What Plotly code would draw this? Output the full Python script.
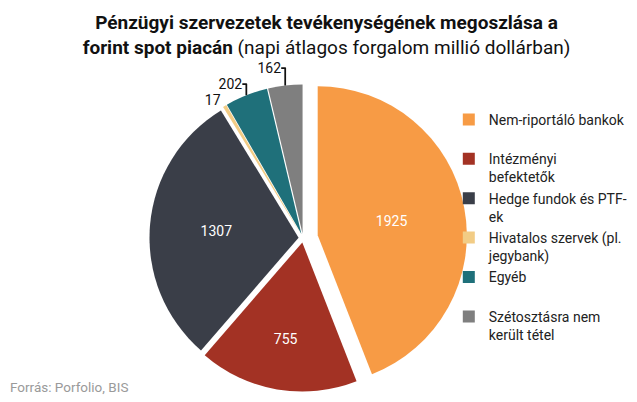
import plotly.graph_objects as go

labels = ["Nem-riportáló bankok<br> ", "Intézményi<br>befektetők", "Hedge fundok és PTF-<br>ek",
          "Hivatalos szervek (pl.<br>jegybank)", "Egyéb<br> ", "Szétosztásra nem<br>került tétel"]
values = [1925, 755, 1307, 17, 202, 162]
colors = ["#F79B45", "#A33224", "#3A3E48", "#F2CC85", "#1F707A", "#7F7F7F"]
pulls = [0.10, 0.03, 0.03, 0.03, 0.03, 0.03]
text_pos = ["inside", "inside", "inside", "outside", "outside", "outside"]

fig = go.Figure(go.Pie(
    labels=labels, values=values, sort=False, direction="clockwise", rotation=0,
    marker=dict(colors=colors, line=dict(width=0)),
    pull=pulls, textinfo="value", textposition=text_pos,
    insidetextorientation="horizontal",
    insidetextfont=dict(color="white", size=14, family="Roboto"),
    outsidetextfont=dict(color="#111", size=14, family="Roboto"),
    domain=dict(x=[0.2057, 0.7207], y=[0.023, 0.971]),
    hoverinfo="label+value",
))

fig.update_layout(
    width=637, height=402,
    margin=dict(l=0, r=0, t=56, b=0, autoexpand=False),
    paper_bgcolor="white", plot_bgcolor="white",
    font=dict(family="Roboto", color="#111"),
    title=dict(
        text="<b>Pénzügyi szervezetek tevékenységének megoszlása a</b><br><b>forint spot piacán</b> (napi átlagos forgalom millió dollárban)",
        x=0.5, xanchor="center", y=0.948, yanchor="middle",
        font=dict(size=19, family="Roboto", color="#111"),
    ),
    legend=dict(
        x=0.692, xanchor="left", y=0.885, yanchor="top",
        bgcolor="rgba(0,0,0,0)",
        font=dict(size=14, family="Roboto", color="#222"),
        valign="top",
    ),
    annotations=[dict(
        text="Forrás: Porfolio, BIS", xref="paper", yref="paper",
        x=0, xanchor="left", y=0, yanchor="bottom", xshift=0, yshift=13, showarrow=False,
        font=dict(size=13.5, family="Roboto", color="#9a9a9a"),
    )],
)

fig.write_html("out.html")
